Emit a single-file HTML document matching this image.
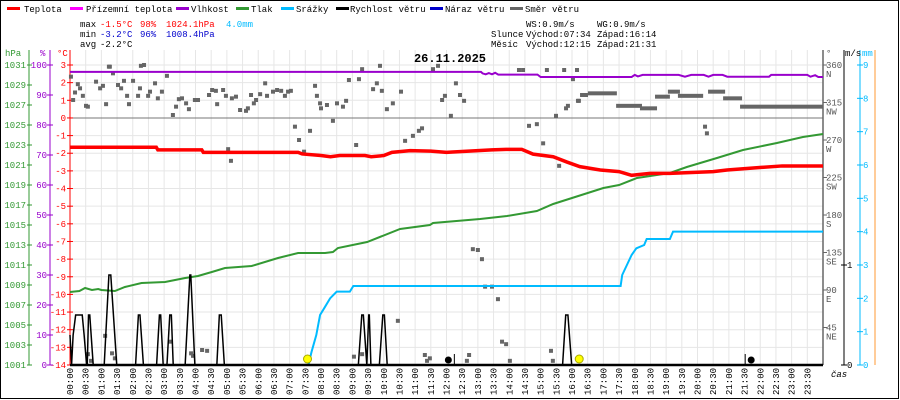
<!DOCTYPE html>
<html><head><meta charset="utf-8"><style>
html,body{margin:0;padding:0;background:#fff}
svg{display:block}
text{font-family:"Liberation Mono",monospace;font-size:9px}
</style></head><body>
<svg id="c" width="900" height="400" viewBox="0 0 900 400">
<rect x="0.5" y="0.5" width="898" height="398" fill="#fff" stroke="#000"/>
<g id="legend">
 <g><rect x="7" y="7" width="13" height="3" fill="#f00"/><text x="24" y="12">Teplota</text></g>
 <g><rect x="70" y="7" width="13" height="3" fill="#f0f"/><text x="86" y="12">Přízemní teplota</text></g>
 <g><rect x="176" y="7" width="13" height="3" fill="#90c"/><text x="191" y="12">Vlhkost</text></g>
 <g><rect x="236" y="7" width="13" height="3" fill="#393"/><text x="251" y="12">Tlak</text></g>
 <g><rect x="281" y="7" width="13" height="3" fill="#0bf"/><text x="296" y="12">Srážky</text></g>
 <g><rect x="336" y="7" width="13" height="3" fill="#000"/><text x="350" y="12">Rychlost větru</text></g>
 <g><rect x="430" y="7" width="13" height="3" fill="#00c"/><text x="445" y="12">Náraz větru</text></g>
 <g><rect x="510" y="7" width="13" height="3" fill="#666"/><text x="525" y="12">Směr větru</text></g>
</g>
<g>
 <text x="80" y="27">max</text><text x="100" y="27" fill="#f00">-1.5°C</text><text x="140" y="27" fill="#f00">98%</text><text x="166" y="27" fill="#f00">1024.1hPa</text><text x="226" y="27" fill="#0bf">4.0mm</text>
 <text x="80" y="37">min</text><text x="100" y="37" fill="#00c">-3.2°C</text><text x="140" y="37" fill="#00c">96%</text><text x="166" y="37" fill="#00c">1008.4hPa</text>
 <text x="80" y="47">avg</text><text x="100" y="47">-2.2°C</text>
 <text x="526" y="27">WS:0.9m/s</text><text x="597" y="27">WG:0.9m/s</text>
 <text x="491" y="37">Slunce</text><text x="526" y="37">Východ:07:34</text><text x="597" y="37">Západ:16:14</text>
 <text x="491" y="47">Měsíc</text><text x="526" y="47">Východ:12:15</text><text x="597" y="47">Západ:21:31</text>
</g>
<g id="grid"></g>
<g id="axes"></g>
<g id="series"></g>
<text x="450" y="62" text-anchor="middle" style="font-size:12px;font-weight:bold">26.11.2025</text>
</svg>
<script>
const timeLabels=["00:00","00:30","01:00","01:30","02:00","02:30","03:00","03:30","04:00","04:30","05:00","05:30","06:00","06:30","07:00","07:30","08:00","08:30","09:00","09:30","10:00","10:30","11:00","11:30","12:00","12:30","13:00","13:30","14:00","14:30","15:00","15:30","16:00","16:30","17:00","17:30","18:00","18:30","19:00","19:30","20:00","20:30","21:00","21:30","22:00","22:30","23:00","23:30"];
const tempTicks=[3,2,1,0,-1,-2,-3,-4,-5,-6,-7,-8,-9,-10,-11,-12,-13,-14];
const humTicks=[100,90,80,70,60,50,40,30,20,10,0];
const presTicks=[1031,1029,1027,1025,1023,1021,1019,1017,1015,1013,1011,1009,1007,1005,1003,1001];
const dirTicks=[360,315,270,225,180,135,90,45];
const dirNames=["N","NW","W","SW","S","SE","E","NE"];
const mmTicks=[9,8,7,6,5,4,3,2,1,0];
const windTicks=[1,0];
const tempData=[[0,-1.66],[2.75,-1.66],[2.8,-1.81],[4.2,-1.81],[4.25,-1.95],[7.27,-1.95],[7.4,-2.04],[8.0,-2.13],[8.3,-2.2],[8.6,-2.13],[9.4,-2.13],[9.6,-2.2],[10.0,-2.13],[10.26,-1.95],[10.84,-1.85],[11.5,-1.88],[12.0,-1.95],[12.2,-1.93],[13.44,-1.81],[13.9,-1.78],[14.4,-1.78],[14.76,-2.05],[15.4,-2.2],[15.84,-2.5],[16.25,-2.76],[16.9,-2.95],[17.5,-3.04],[17.9,-3.25],[18.49,-3.14],[19.12,-3.14],[20.5,-3.04],[20.94,-2.95],[21.67,-2.85],[22.7,-2.72],[24,-2.72]];
const humData=[[0,97.7],[13.1,97.7],[13.15,97.2],[13.25,96.9],[13.35,97.3],[13.45,96.9],[13.55,97.4],[13.65,96.8],[14.9,96.8],[15.0,96.0],[17.9,96.0],[18.0,96.7],[18.1,96.2],[18.25,96.7],[19.4,96.7],[19.6,96.1],[19.8,96.7],[20.2,96.7],[20.35,96.1],[20.5,96.7],[20.8,96.7],[20.95,96.1],[22.28,96.1],[22.35,96.7],[23.5,96.7],[23.6,96.1],[23.75,96.6],[23.85,96.0],[24,96.0]];
const presData=[[0,1008.3],[0.3,1008.4],[0.48,1008.7],[0.7,1008.5],[0.9,1008.6],[1.0,1008.5],[1.43,1008.4],[1.75,1008.8],[2.28,1009.2],[3.03,1009.3],[3.67,1009.7],[4.08,1009.9],[4.52,1010.3],[4.94,1010.7],[5.79,1010.9],[6.63,1011.7],[7.27,1012.2],[8.13,1012.2],[8.38,1012.3],[8.54,1012.7],[9.47,1013.3],[10.52,1014.6],[11.47,1015.0],[11.57,1015.2],[13.07,1015.6],[13.93,1015.9],[14.88,1016.4],[15.4,1017.1],[16.1,1017.8],[17.0,1018.7],[17.5,1019.0],[18.07,1019.7],[19.12,1020.2],[19.66,1020.8],[20.62,1021.7],[21.45,1022.5],[22.53,1023.2],[23.36,1023.8],[24,1024.1]];
const rainData=[[0,0],[7.6,0],[7.7,0.4],[7.85,0.9],[7.97,1.5],[8.1,1.7],[8.29,2.0],[8.5,2.2],[8.92,2.2],[9.03,2.37],[17.55,2.37],[17.6,2.7],[17.75,3.0],[17.9,3.3],[18.05,3.5],[18.3,3.6],[18.38,3.78],[19.12,3.78],[19.22,4.0],[24,4.0]];
const windData=[[0,0.3],[0.05,0],[0.1,0.3],[0.18,0.5],[0.39,0.5],[0.45,0.3],[0.53,0],[0.55,0],[0.59,0.5],[0.63,0.5],[0.74,0],[1.09,0],[1.24,0.9],[1.3,0.9],[1.49,0],[2.09,0],[2.18,0.5],[2.23,0.5],[2.34,0],[2.76,0],[2.85,0.5],[2.89,0.5],[2.97,0],[3.09,0],[3.18,0.5],[3.23,0.5],[3.29,0],[3.67,0],[3.82,0.9],[3.85,0.9],[3.98,0],[4.68,0],[4.76,0.5],[4.82,0.5],[4.92,0],[9.19,0],[9.3,0.5],[9.35,0.5],[9.46,0],[9.52,0.5],[9.54,0.5],[9.59,0],[9.86,0],[9.97,0.5],[10.02,0.5],[10.11,0],[15.7,0],[15.8,0.5],[15.87,0.5],[15.99,0],[24,0]];
const dirData=[[.03,346],[.10,318],[.16,327],[.25,337],[.32,332],[.41,323],[.51,311],[.57,310],[.83,340],[.96,332],[1.05,335],[1.15,313],[1.24,358],[1.27,358],[1.37,350],[1.53,336],[1.63,332],[1.72,341],[1.82,323],[1.88,313],[2.01,341],[2.17,323],[2.23,332],[2.26,359],[2.36,360],[2.49,323],[2.55,328],[2.71,338],[2.80,320],[2.93,328],[3.09,347],[3.28,300],[3.38,310],[3.47,319],[3.57,320],[3.70,314],[3.79,307],[3.98,318],[4.08,318],[4.43,324],[4.53,330],[4.65,329],[4.69,313],[4.88,330],[4.97,323],[5.04,259],[5.13,245],[5.16,320],[5.29,322],[5.42,306],[5.61,305],[5.67,308],[5.77,324],[5.86,314],[5.93,318],[6.06,325],[6.22,338],[6.28,323],[6.47,328],[6.60,330],[6.73,329],[6.85,323],[6.95,328],[7.04,329],[7.17,286],[7.30,270],[7.46,256],[7.65,281],[7.81,335],[7.87,323],[7.97,314],[8.0,308],[8.19,312],[8.38,293],[8.51,314],[8.70,310],[8.80,317],[8.89,342],[9.12,264],[9.21,343],[9.31,355],[9.66,331],[9.78,338],[9.88,359],[9.94,329],[10.10,307],[10.29,314],[10.55,328],[10.68,269],[10.93,275],[11.12,281],[11.22,284],[11.57,355],[11.73,359],[11.86,318],[11.95,323],[12.14,299],[12.30,338],[12.43,324],[12.56,317],[12.84,139],[13.0,138],[13.13,127],[13.23,94],[13.45,94],[13.64,79],[13.77,28],[13.90,25],[14.02,5],[12.65,5],[12.72,12],[11.31,12],[11.38,5],[11.47,8],[9.05,10],[9.31,13],[10.45,53],[1.12,35],[1.34,14],[1.43,8],[0.57,13],[0.67,5],[3.19,28],[3.86,14],[3.92,11],[4.21,18],[4.37,17],[15.33,17],[15.39,5],[14.31,354],[14.44,354],[15.20,354],[15.75,354],[16.03,343],[16.19,317],[15.87,311],[15.81,308],[15.49,299],[14.63,287],[14.88,289],[15.08,266],[15.59,239],[16.16,354],[16.22,317],[20.24,286],[20.30,278]];
const dirRuns=[[16.32,16.51,324],[16.57,17.43,326],[17.47,18.23,311],[18.23,18.71,308],[18.71,19.12,322],[19.12,19.44,328],[19.44,20.18,323],[20.40,20.88,328],[20.88,21.42,320],[21.42,24,310]];
const sunTimes=[7.57,16.23];
const moonTimes=[12.25,21.52];

const NS="http://www.w3.org/2000/svg";
const X0=70,X1=823,YT=65,YB=365;
const xS=h=>X0+h*(X1-X0)/24;
const yT=t=>YT+(3-t)*(YB-YT)/17;
const yH=p=>YB-p*(YB-YT)/100;
const yP=p=>YB-(p-1001)*(YB-YT)/30;
const yD=d=>YB-d*(YB-YT)/360;
const yW=w=>YB-w*100;
const yM=m=>YB-m*(YB-YT)/9;
function mk(tag,at,parent){const e=document.createElementNS(NS,tag);for(const k in at)e.setAttribute(k,at[k]);parent.appendChild(e);return e;}
const grid=document.getElementById('grid'),axes=document.getElementById('axes'),ser=document.getElementById('series');

timeLabels.forEach((lb,i)=>{const x=xS(i/2);
 const l=mk('line',{x1:x,y1:50,x2:x,y2:YB,stroke:'#e6e6e6'},grid);
 
 
 const t=mk('text',{x:0,y:0,transform:`translate(${x+3},${395}) rotate(-90)`,style:'font-size:9px'},axes);
 t.textContent=lb;
 
 
});
tempTicks.forEach(t=>{const y=yT(t);
 const l=mk('line',{x1:X0,y1:y,x2:X1,y2:y,stroke:t===0?'#777':'#e6e6e6'},grid);
 
 
 mk('line',{x1:67,y1:y,x2:73,y2:y,stroke:'#f00'},axes);
 const s=mk('text',{x:66,y:y+3,'text-anchor':'end',fill:'#f00'},axes);
 s.textContent=t;
 
 
});
humTicks.forEach(h=>{const y=yH(h);
 mk('line',{x1:47,y1:y,x2:53,y2:y,stroke:'#90c'},axes);
 const s=mk('text',{x:47,y:y+3,'text-anchor':'end',fill:'#90c'},axes);
 s.textContent=h;
 
 
});
presTicks.forEach(p=>{const y=yP(p);
 mk('line',{x1:27,y1:y,x2:32,y2:y,stroke:'#393'},axes);
 const s=mk('text',{x:26,y:y+3,'text-anchor':'end',fill:'#393'},axes);
 s.textContent=p;
 
 
});
dirTicks.forEach((d,i)=>{const y=yD(d);
 mk('line',{x1:X1,y1:y,x2:X1+4,y2:y,stroke:'#666'},axes);
 const s=mk('text',{x:826,y:y+3,fill:'#555'},axes);
 s.textContent=d;
 
 
 const n=mk('text',{x:826,y:y+12,fill:'#555'},axes);
 n.textContent=dirNames[i];
 
 
});
windTicks.forEach(w=>{const y=yW(w);
 mk('line',{x1:841,y1:y,x2:847,y2:y,stroke:'#000'},axes);
 const s=mk('text',{x:847,y:y+3},axes);
 s.textContent=w;
 
 
});
mmTicks.forEach(m=>{const y=yM(m);
 mk('line',{x1:857,y1:y,x2:863,y2:y,stroke:'#0bf'},axes);
 const s=mk('text',{x:863,y:y+3,fill:'#0bf'},axes);
 s.textContent=m;
 
 
});
[[29,'#393'],[50,'#90c'],[70,'#f00'],[823,'#666'],[844,'#000'],[860,'#0bf'],[875,'#f93']].forEach(a=>{
 const l=mk('line',{x1:a[0],y1:50,x2:a[0],y2:YB,stroke:a[1],'stroke-width':a[0]===823?1.5:1},axes);
 
 
});
[['hPa',5,'#393'],['%',40,'#90c'],['°C',57,'#f00'],['°',826,'#555'],['m/s',845,'#000'],['mm',862,'#0bf']].forEach(a=>{
 const s=mk('text',{x:a[1],y:56,fill:a[2]},axes);
 s.textContent=a[0];
 
 
});
const cas=mk('text',{x:831,y:377,style:'font-size:9px;font-style:italic'},axes);
cas.textContent='čas';



function linePath(data,yf){return data.map((p,i)=>(i?'L':'M')+xS(p[0])+','+yf(p[1])).join('');}

dirData.forEach(p=>{const r=mk('rect',{x:xS(p[0])-2,y:yD(p[1])-2,width:4,height:4,fill:'#666'},ser);
 
 });
dirRuns.forEach(r=>{const y=yD(r[2]);const g=mk('rect',{x:xS(r[0])-2,y:y-2,width:xS(r[1])-xS(r[0])+2,height:4,fill:'#666'},ser);
 
 });

const rp=mk('path',{d:linePath(rainData,yM),fill:'none',stroke:'#0bf','stroke-width':2},ser);


const pp=mk('path',{d:linePath(presData,yP),fill:'none',stroke:'#393','stroke-width':2},ser);


const hp=mk('path',{d:linePath(humData,yH),fill:'none',stroke:'#90c','stroke-width':2},ser);


const tp=mk('path',{d:linePath(tempData,yT),fill:'none',stroke:'#f00','stroke-width':3.5},ser);


const wp=mk('path',{d:linePath(windData,yW),fill:'none',stroke:'#000','stroke-width':1.5},ser);


const base=mk('line',{x1:X0,y1:YB,x2:X1,y2:YB,stroke:'#000','stroke-width':2.5},ser);


sunTimes.forEach(h=>{const c=mk('circle',{cx:xS(h),cy:359,r:4,fill:'#ff0',stroke:'#aa0'},ser);
 
 });
moonTimes.forEach((h,i)=>{const x=xS(h);const c=mk('circle',{cx:i===0?x-6:x+6,cy:360,r:3.5,fill:'#000'},ser);
 
 
 mk('line',{x1:x,y1:354,x2:x,y2:364,stroke:'#000'},ser);});
</script>
</body></html>
